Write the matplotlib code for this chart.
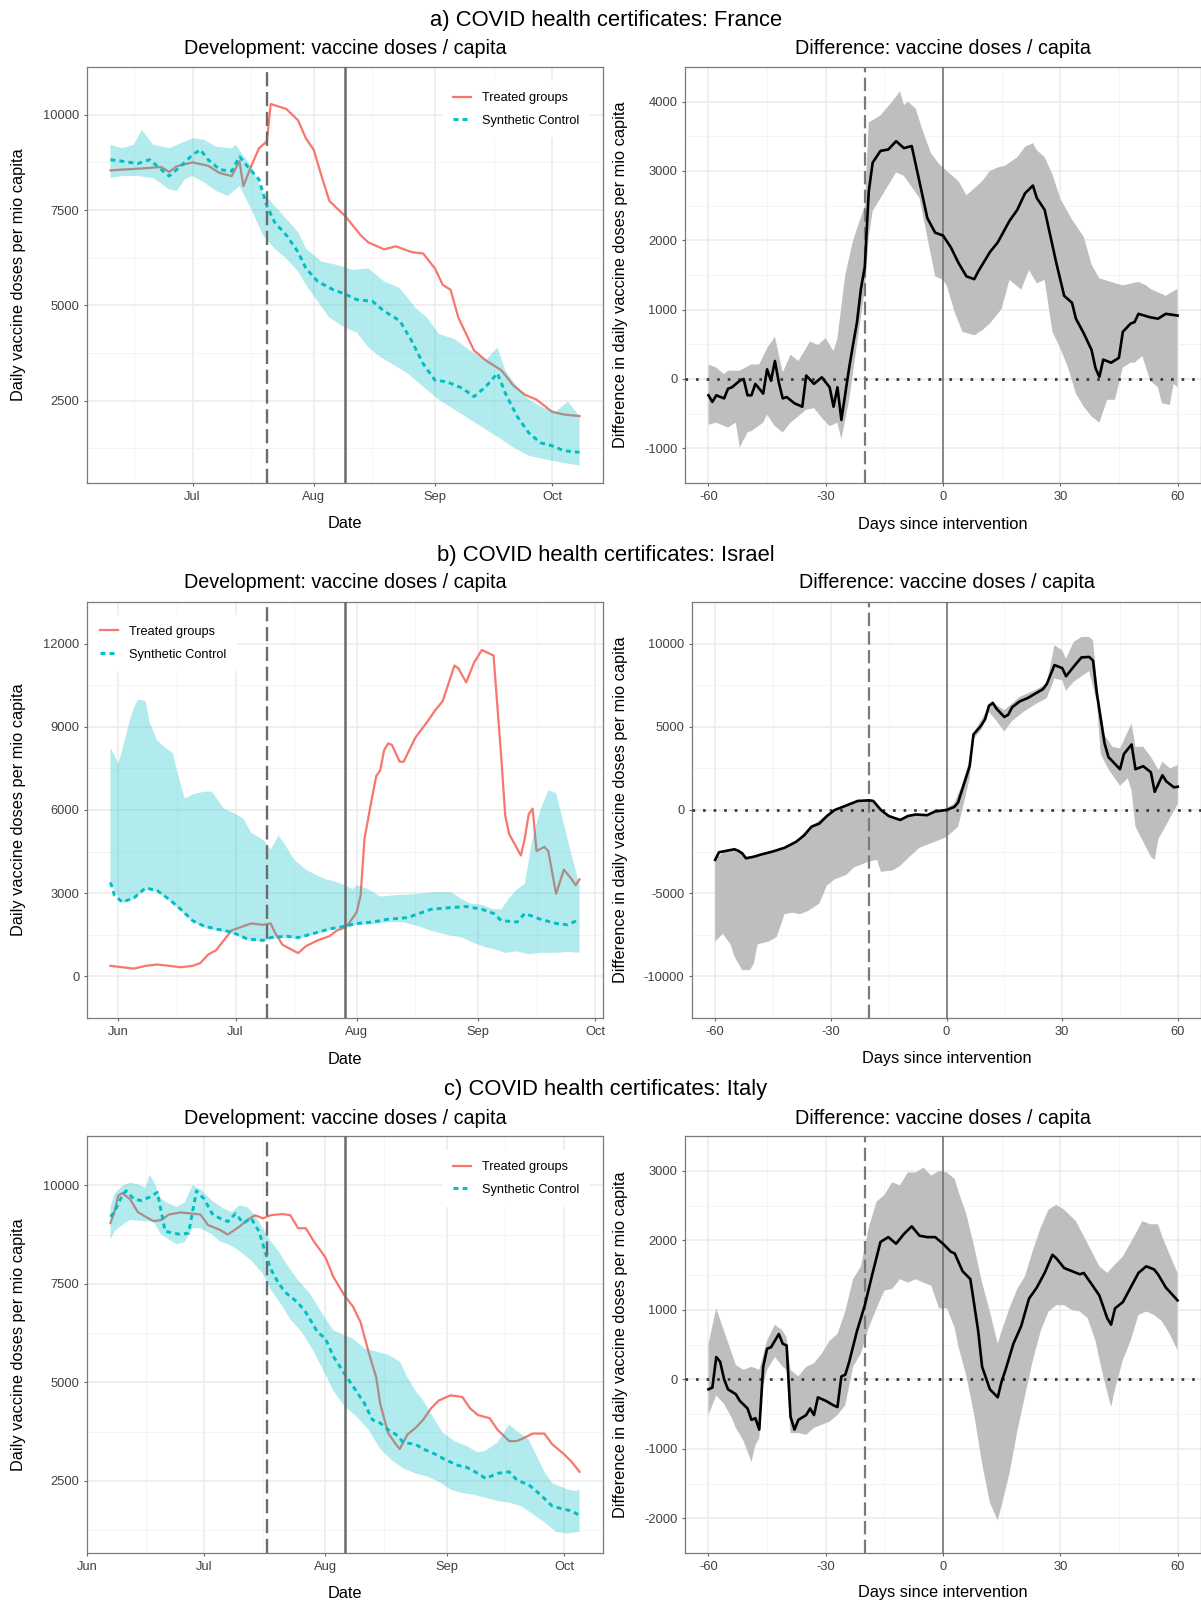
import numpy as np
import matplotlib
matplotlib.use("Agg")
import matplotlib.pyplot as plt
import matplotlib.dates as mdates
from matplotlib.lines import Line2D

plt.rcParams['font.family'] = ['Liberation Sans', 'DejaVu Sans']
plt.rcParams['axes.unicode_minus'] = False

# ---------------- data (days relative to intervention) ----------------
# a) France, intervention 2021-08-09
fr_start = '2021-08-09'
fr_treat_days = [-60,-57,-52,-47,-45,-43,-39,-35,-32,-29,-27,-26,-24,-22,-20,-19,-15,-12,-10,-8,
                 -6,-4,-2,0,4,6,10,13,17,20,23,25,27,29,33,36,40,43,46,49,53,56,60]
fr_treat = [8540,8560,8590,8630,8500,8650,8750,8660,8470,8390,8780,8130,8650,9120,9300,10280,10150,9850,9380,9080,
            8390,7740,7540,7350,6840,6650,6470,6550,6400,6360,5970,5540,5410,4680,3820,3560,3300,2910,2660,2530,2210,2140,2100]
fr_synth_days = [-60,-57,-53,-50,-48,-45,-42,-39,-37,-35,-32,-29,-27,-25,-22,-20,-18,-15,-12,-10,
                 -7,-3,0,3,7,10,14,17,20,23,26,30,33,36,39,41,44,47,50,53,56,60]
fr_synth = [8820,8780,8720,8820,8650,8390,8650,8950,9080,8820,8560,8520,8900,8650,8300,7610,7180,6840,6400,5970,
            5630,5410,5300,5150,5110,4850,4600,4080,3470,3040,3000,2830,2610,2870,3220,2700,2100,1660,1400,1320,1190,1150]
fr_hi_days = [-60,-57,-54,-52,-49,-45,-42,-39,-36,-33,-29,-28,-24,-21,-18,-15,-12,-10,-6,-2,
              2,6,10,14,18,21,24,28,32,36,39,41,44,47,51,54,57,60]
fr_hi = [9210,9120,9210,9600,9210,9120,9250,9380,9340,9160,9120,9210,8650,7960,7610,7270,6920,6490,6150,6060,
         5930,5970,5630,5460,4940,4680,4250,4120,3820,3560,3900,3300,2870,2530,2310,2220,2480,2100]
fr_lo_days = [-60,-57,-53,-49,-45,-43,-41,-39,-36,-33,-30,-27,-24,-21,-18,-15,-12,-10,-7,-4,
              0,3,6,9,12,16,20,24,28,32,36,40,43,47,51,55,60]
fr_lo = [8340,8390,8390,8340,8040,8000,8300,8390,8220,8000,7870,8130,7530,6840,6490,6230,5890,5540,5110,4680,
         4420,4290,3900,3650,3470,3220,2870,2530,2270,2010,1750,1490,1280,1060,970,890,800]
fr_diff_days = [-60,-59,-58,-56,-55,-54,-52,-51,-50,-49,-48,-46,-45,-44,-43,-42,-41,-40,-38,-36,
                -35,-33,-31,-29,-28,-27,-26,-24,-23,-22,-21,-20,-19,-18,-16,-14,-12,-10,-8,-6,
                -4,-2,0,2,4,6,8,9,12,14,17,19,21,23,24,26,29,31,33,34,
                36,38,39,40,41,43,45,46,48,49,50,53,55,57,60]
fr_diff = [-235,-330,-235,-280,-140,-120,-25,0,-235,-235,-70,-210,140,-25,260,-50,-280,-260,-350,-400,
           50,-70,25,-120,-400,-120,-590,165,500,820,1300,1620,2700,3120,3290,3310,3430,3330,3360,2840,
           2320,2110,2070,1900,1670,1480,1440,1550,1830,1970,2280,2440,2680,2790,2610,2440,1670,1200,1100,870,
           660,420,160,30,280,235,305,680,800,820,940,890,870,940,915]
fr_dhi_days = [-60,-58,-56,-55,-52,-49,-47,-45,-43,-41,-39,-37,-34,-32,-30,-28,-27,-25,-23,-20,
               -19,-16,-13,-11,-10,-9,-7,-5,-3,-1,0,2,4,6,8,10,12,14,16,19,
               21,23,24,26,28,30,33,36,38,40,43,46,50,52,53,55,57,60]
fr_dhi = [210,165,70,120,120,210,210,445,610,95,350,260,540,490,590,400,590,1500,2000,2500,
          3700,3800,4000,4150,3950,4000,3900,3550,3250,3100,3050,2950,2850,2650,2750,2850,3000,3050,3080,3200,
          3350,3400,3300,3200,2950,2600,2300,2050,1650,1450,1400,1350,1400,1350,1300,1250,1200,1300]
fr_dlo_days = [-60,-58,-55,-53,-52,-50,-49,-46,-45,-43,-41,-39,-36,-35,-33,-31,-29,-27,-26,-24,
               -23,-22,-21,-20,-19,-18,-15,-12,-10,-8,-6,-4,-2,0,1,3,5,8,10,12,
               15,17,20,22,24,26,28,30,32,34,36,38,40,42,44,46,48,49,51,53,55,56,58,59,60]
fr_dlo = [-660,-630,-700,-630,-990,-770,-750,-630,-515,-680,-770,-630,-490,-445,-420,-560,-680,-630,-870,-300,
          100,500,900,1300,2040,2420,2700,2980,2930,2770,2610,2040,1480,1430,1340,960,680,630,700,800,
          1010,1430,1290,1570,1380,1430,680,445,165,-210,-400,-540,-630,-300,-300,165,235,235,330,-25,
          -120,-350,-375,-70,-120]

# b) Israel, intervention 2021-07-29
il_start = '2021-07-29'
il_treat_days = [-60,-57,-54,-51,-48,-45,-42,-39,-37,-35,-33,-31,-29,-27,-24,-21,-19,-18,-16,-12,
                 -10,-7,-4,-2,0,1,3,4,5,7,8,9,10,11,12,14,15,18,21,23,
                 25,28,29,31,33,35,38,40,41,42,45,46,47,48,49,51,52,54,56,58,59,60]
il_treat = [380,330,280,380,430,380,330,380,480,790,940,1300,1660,1760,1910,1860,1910,1600,1140,840,
            1090,1300,1450,1660,1760,1910,2320,2930,4980,6510,7230,7430,8150,8400,8350,7740,7740,8610,9170,9580,
            9930,11210,11110,10600,11310,11770,11570,7840,5790,5130,4360,4980,5850,6050,4520,4670,4520,2980,3850,3500,3290,3500]
il_synth_days = [-60,-59,-57,-54,-51,-48,-45,-42,-39,-36,-33,-29,-25,-21,-19,-15,-12,-8,-4,0,
                 3,7,11,16,19,22,26,31,35,38,40,44,46,50,54,57,60]
il_synth = [3390,2930,2680,2830,3190,3090,2780,2420,2010,1810,1710,1600,1350,1300,1400,1450,1400,1550,1710,1810,
            1910,1960,2060,2120,2270,2420,2470,2520,2420,2270,2010,1960,2270,2060,1910,1860,2060]
il_hi_days = [-60,-58,-57,-55,-54,-53,-51,-50,-48,-46,-44,-43,-41,-39,-36,-34,-31,-28,-26,-24,
              -21,-19,-17,-15,-13,-10,-8,-5,-3,0,2,3,6,9,13,16,19,23,27,30,
              32,35,38,40,42,44,46,48,50,52,54,56,58,60]
il_hi = [8250,7690,8150,9270,9680,9990,9930,9170,8500,8250,8040,7430,6410,6560,6660,6660,6050,5850,5690,5180,
         4930,4570,5080,4670,4210,3850,3700,3500,3440,3290,3140,3290,3140,2880,2930,2950,2980,3040,3040,2780,
         2630,2580,2420,2420,2830,3140,3340,4980,6000,6710,6610,5490,4360,3290]
il_lo_days = [-60,-57,-54,-51,-48,-45,-42,-39,-36,-33,-29,-25,-21,-19,-15,-12,-8,-4,0,3,
              7,11,15,19,22,26,30,33,36,39,41,44,47,50,54,57,60]
il_lo = [3340,2640,2780,3140,3040,2730,2370,1960,1760,1660,1550,1300,1250,1350,1400,1350,1500,1660,1760,1850,
         1880,1960,1950,1800,1650,1500,1400,1200,1050,950,850,900,800,850,850,880,850]
il_diff_days = [-60,-59,-57,-55,-54,-53,-52,-50,-48,-45,-42,-39,-37,-35,-33,-31,-29,-26,-23,-20,
                -19,-17,-15,-12,-10,-8,-5,-3,0,2,3,4,6,7,9,10,11,12,13,15,
                16,17,19,21,23,25,26,28,30,31,33,35,37,38,39,41,42,45,46,48,
                49,51,53,54,56,57,59,60]
il_diff = [-2995,-2540,-2450,-2360,-2450,-2600,-2900,-2810,-2670,-2490,-2270,-1910,-1540,-1000,-820,-360,0,270,545,580,
           545,0,-360,-600,-360,-270,-310,-90,0,180,450,1180,2630,4540,5080,5450,6260,6440,6080,5590,
           5720,6170,6530,6720,6990,7260,7570,8710,8530,8040,8620,9170,9200,8980,6990,3990,3180,2450,3360,3940,
           2450,2630,2270,1090,2090,1720,1360,1400]
il_dhi_days = [-60,-57,-55,-52,-48,-45,-42,-39,-35,-31,-29,-26,-23,-19,-17,-15,-12,-8,-5,-3,
               0,2,4,6,7,10,12,15,19,23,26,28,30,31,33,35,37,38,39,41,
               43,45,48,49,51,53,55,56,58,60]
il_dhi = [-2950,-2400,-2300,-2850,-2620,-2440,-2220,-1860,-950,-310,50,320,600,600,50,-310,-550,-220,-260,-40,
          100,400,1500,3000,4600,5800,6450,6000,6800,7200,7600,9900,9600,9100,10100,10400,10400,10200,7600,4500,
          3800,3700,5200,3800,3800,3200,2400,2900,2500,2700]
il_dlo_days = [-60,-58,-56,-55,-53,-51,-50,-49,-46,-44,-42,-40,-38,-36,-33,-31,-29,-26,-24,-22,
               -20,-18,-17,-14,-12,-10,-7,-4,0,3,4,6,7,9,11,13,15,17,20,23,
               26,28,30,31,33,37,39,40,42,45,47,48,49,51,53,54,55,57,58,60]
il_dlo = [-7900,-7440,-8080,-8800,-9620,-9620,-9260,-8080,-7900,-7620,-6260,-6170,-6260,-6080,-5630,-4540,-4170,-3900,-3450,-3270,
          -3090,-3000,-3720,-3630,-3360,-2900,-2270,-2000,-1630,-1000,-90,1900,4270,4810,5900,5350,4720,5350,5900,6350,
          6720,7900,7800,7170,7710,8350,6500,3360,2450,1450,1900,1180,-1000,-1900,-2810,-3000,-1720,-910,-450,360]

# c) Italy, intervention 2021-08-06
it_start = '2021-08-06'
it_treat_days = [-60,-59,-58,-57,-55,-53,-51,-49,-47,-45,-42,-39,-37,-35,-32,-30,-27,-25,-23,-21,
                 -19,-16,-14,-12,-10,-8,-5,-3,0,2,4,6,8,9,11,13,14,16,18,20,
                 22,24,27,30,32,34,37,39,42,44,46,48,51,53,56,58,60]
it_treat = [9040,9320,9740,9800,9650,9320,9200,9090,9120,9260,9310,9280,9260,8990,8870,8750,8950,9120,9240,9160,
            9240,9270,9240,8910,8910,8580,8170,7680,7180,6930,6520,5780,5120,4460,3720,3430,3310,3680,3840,4050,
            4340,4540,4670,4630,4340,4170,4090,3800,3510,3510,3600,3700,3700,3430,3180,2980,2730]
it_synth_days = [-60,-59,-57,-56,-54,-52,-50,-48,-46,-44,-42,-40,-38,-36,-34,-32,-30,-28,-26,-24,
                 -22,-20,-19,-17,-15,-12,-10,-7,-5,-3,0,2,5,7,9,11,13,15,18,20,
                 23,26,29,31,34,36,39,42,44,47,50,53,56,58,60]
it_synth = [9200,9320,9740,9860,9650,9610,9700,9820,8830,8790,8750,8790,9860,9650,9280,9160,9080,9280,9040,9160,
            8830,8170,7880,7510,7260,7020,6770,6270,6110,5660,5200,4910,4460,4050,3970,3800,3680,3470,3430,3310,
            3180,3020,2890,2850,2690,2560,2690,2730,2520,2400,2150,1860,1780,1740,1620]
it_hi_days = [-60,-59,-57,-55,-53,-51,-50,-49,-47,-45,-43,-41,-39,-37,-34,-31,-29,-27,-25,-23,
              -21,-19,-17,-15,-12,-9,-6,-3,0,2,5,8,11,14,16,18,20,22,25,28,
              31,34,36,39,42,44,47,49,51,53,55,57,59,60]
it_hi = [9450,9780,9980,10070,10020,9940,10270,10110,9650,9530,9450,9570,10000,9900,9610,9410,9320,9490,9450,9240,
         8910,8580,8330,8010,7590,7260,6770,6320,6190,6110,5860,5780,5700,5530,5120,4790,4540,4210,3720,3510,
         3390,3220,3270,3470,3930,3760,3550,3140,2730,2440,2360,2280,2240,2280]
it_lo_days = [-60,-59,-57,-55,-52,-49,-47,-45,-43,-41,-39,-37,-34,-32,-29,-27,-24,-21,-19,-16,
              -14,-11,-8,-5,-3,0,3,6,9,12,15,18,21,24,27,30,33,36,39,42,
              45,48,51,54,57,60]
it_lo = [8620,8830,8990,9120,9090,9080,8750,8620,8500,8560,8910,8910,8750,8580,8460,8330,8090,7760,7350,6930,
         6600,6270,5780,5200,4790,4380,4130,3800,3310,3020,2810,2690,2610,2480,2280,2190,2150,2070,1990,1950,
         1860,1660,1450,1210,1160,1210]
it_diff_days = [-60,-59,-58,-57,-56,-55,-53,-52,-50,-49,-48,-47,-46,-45,-44,-42,-41,-40,-39,-38,
                -37,-35,-34,-33,-32,-30,-28,-27,-26,-25,-24,-22,-20,-18,-16,-14,-12,-10,-8,-6,
                -4,-2,0,2,3,5,7,9,10,12,14,15,16,18,20,22,24,26,28,29,
                31,33,35,36,38,40,42,43,44,46,48,50,52,54,55,57,60]
it_diff = [-145,-120,320,250,0,-145,-215,-310,-420,-585,-560,-725,180,440,460,650,510,485,-540,-725,
           -585,-515,-420,-515,-260,-310,-375,-400,40,65,250,695,1065,1530,1975,2045,1950,2090,2200,2065,
           2045,2045,1950,1835,1810,1555,1440,695,180,-145,-260,-30,135,510,765,1160,1320,1530,1790,1740,
           1600,1555,1510,1530,1370,1205,880,785,1020,1110,1320,1530,1625,1580,1510,1320,1135]
it_dhi_days = [-60,-58,-56,-54,-53,-51,-49,-47,-45,-43,-41,-40,-39,-37,-35,-33,-31,-29,-27,-25,
               -23,-21,-19,-17,-15,-13,-11,-9,-7,-5,-3,-1,1,3,4,6,8,10,12,14,
               15,17,19,21,23,25,27,29,31,34,37,40,42,44,46,49,51,53,55,56,58,60]
it_dhi = [510,1020,695,370,205,135,180,135,555,785,695,600,135,40,180,230,370,555,650,975,
          1440,1625,2180,2555,2650,2835,2790,2975,2975,3045,2930,3000,2975,2880,2695,2370,1905,1390,975,510,
          695,1020,1300,1485,1855,2180,2440,2510,2440,2275,1950,1625,1530,1650,1765,2065,2275,2230,2230,2065,1790,1530]
it_dlo_days = [-60,-58,-56,-54,-53,-51,-49,-48,-47,-46,-45,-43,-41,-40,-39,-37,-35,-33,-31,-29,
               -27,-25,-23,-21,-19,-17,-15,-13,-11,-9,-7,-5,-3,-1,1,3,4,6,8,10,
               12,14,15,17,19,21,23,25,27,29,31,33,35,37,39,41,43,44,46,48,
               50,52,54,56,58,60]
it_dlo = [-515,-235,-355,-560,-700,-890,-1190,-950,-850,-80,135,320,180,135,-775,-775,-800,-700,-655,-610,
          -515,-375,180,370,740,1020,1275,1300,1440,1390,1440,1390,1345,1020,1020,740,460,40,-515,-1215,
          -1775,-2030,-1820,-1355,-750,-235,275,695,975,1065,1065,995,975,880,555,40,-400,-145,275,555,
          925,975,925,835,650,415]

# ---------------- layout ----------------
W, H = 1201, 1603
fig = plt.figure(figsize=(W / 100, H / 100), dpi=100)

RED = '#F8766D'
CYAN = '#00BFC4'
VGREY = '#6b6b6b'
TICKC = '#404040'


def pix_axes(x0, y0, x1, y1):
    return fig.add_axes([x0 / W, 1 - y1 / H, (x1 - x0) / W, (y1 - y0) / H])


def base_style(ax, ylim, yticks):
    ax.set_ylim(*ylim)
    ax.set_yticks(yticks)
    step = yticks[1] - yticks[0]
    ax.set_yticks(np.arange(yticks[0] - step / 2, yticks[-1] + step, step), minor=True)
    ax.set_axisbelow(True)
    ax.grid(which='major', color='#EBEBEB', lw=1.1)
    ax.grid(which='minor', color='#F4F4F4', lw=0.7)
    for s in ax.spines.values():
        s.set_color('#7a7a7a')
        s.set_linewidth(0.9)
    ax.tick_params(which='major', length=2.5, width=0.8, color='#666666',
                   labelsize=9.3, labelcolor=TICKC, pad=3)
    ax.tick_params(which='minor', length=0)


def dev_panel(ax, start, t_days, t_vals, s_days, s_vals, hi_days, hi_vals, lo_days, lo_vals,
              ylim, yticks, leg_anchor):
    day0 = np.datetime64(start)

    def to_x(days):
        return mdates.date2num(day0 + np.array(days).astype('timedelta64[D]'))

    ax.plot(to_x(t_days), t_vals, color=RED, lw=1.6, zorder=3)
    ax.plot(to_x(s_days), s_vals, color=CYAN, lw=2.1, ls=(0, (1.7, 1.4)), zorder=3)
    bx = np.concatenate([to_x(hi_days), to_x(lo_days)[::-1]])
    by = np.concatenate([hi_vals, lo_vals[::-1]])
    ax.fill(bx, by, color=CYAN, alpha=0.3, lw=0, zorder=4)
    ax.axvline(to_x([-20])[0], color=VGREY, lw=1.7, ls=(0, (6, 2.4)), zorder=5)
    ax.axvline(to_x([0])[0], color=VGREY, lw=1.8, zorder=5)
    ax.set_xlim(to_x([-66])[0], to_x([66])[0])
    ax.xaxis.set_major_locator(mdates.MonthLocator())
    ax.xaxis.set_major_formatter(mdates.DateFormatter('%b'))
    ax.xaxis.set_minor_locator(mdates.MonthLocator(bymonthday=16))
    base_style(ax, ylim, yticks)
    handles = [Line2D([], [], color=RED, lw=1.6),
               Line2D([], [], color=CYAN, lw=2.1, ls=(0, (1.7, 1.4)))]
    leg = ax.legend(handles, ['Treated groups', 'Synthetic Control'], loc='upper left',
                    bbox_to_anchor=leg_anchor, frameon=True, fancybox=False, framealpha=1,
                    edgecolor='none', facecolor='white', fontsize=9.2, handlelength=1.45,
                    handletextpad=0.85, labelspacing=0.85, borderpad=0.85, borderaxespad=0)
    leg.set_zorder(6)


def diff_panel(ax, d_days, d_vals, hi_days, hi_vals, lo_days, lo_vals, ylim, yticks):
    bx = np.concatenate([hi_days, lo_days[::-1]])
    by = np.concatenate([hi_vals, lo_vals[::-1]])
    ax.fill(bx, by, color='#BEBEBE', lw=0, zorder=2)
    ax.axhline(0, color='#333333', lw=1.9, ls=(0, (1, 3)), zorder=3)
    ax.axvline(-20, color='#7a7a7a', lw=1.6, ls=(0, (6, 2.4)), zorder=3)
    ax.axvline(0, color=VGREY, lw=1.1, zorder=3)
    ax.plot(d_days, d_vals, color='black', lw=1.9, zorder=4)
    ax.set_xlim(-66, 66)
    ax.set_xticks([-60, -30, 0, 30, 60])
    ax.set_xticks([-45, -15, 15, 45], minor=True)
    base_style(ax, ylim, yticks)


rows = [
    dict(title='a) COVID health certificates: France', ty=20.7, sy=48, top=67, bot=483, rx0=685,
         xl=524, start=fr_start,
         dev=(fr_treat_days, fr_treat, fr_synth_days, fr_synth, fr_hi_days, fr_hi, fr_lo_days, fr_lo),
         dev_ylim=(345, 10759), dev_ticks=[2500, 5000, 7500, 10000], leg=(0.688, 0.966),
         dif=(fr_diff_days, fr_diff, fr_dhi_days, fr_dhi, fr_dlo_days, fr_dlo),
         dif_ylim=(-1258, 4413), dif_ticks=[-1000, 0, 1000, 2000, 3000, 4000]),
    dict(title='b) COVID health certificates: Israel', ty=555, sy=583, top=602, bot=1018, rx0=692,
         xl=1059, start=il_start,
         dev=(il_treat_days, il_treat, il_synth_days, il_synth, il_hi_days, il_hi, il_lo_days, il_lo),
         dev_ylim=(-286, 12307), dev_ticks=[0, 3000, 6000, 9000, 12000], leg=(0.004, 0.969),
         dif=(il_diff_days, il_diff, il_dhi_days, il_dhi, il_dlo_days, il_dlo),
         dif_ylim=(-10671, 11668), dif_ticks=[-10000, -5000, 0, 5000, 10000]),
    dict(title='c) COVID health certificates: Italy', ty=1090, sy=1118, top=1136, bot=1553, rx0=685,
         xl=1593, start=it_start,
         dev=(it_treat_days, it_treat, it_synth_days, it_synth, it_hi_days, it_hi, it_lo_days, it_lo),
         dev_ylim=(670, 10767), dev_ticks=[2500, 5000, 7500, 10000], leg=(0.688, 0.966),
         dif=(it_diff_days, it_diff, it_dhi_days, it_dhi, it_dlo_days, it_dlo),
         dif_ylim=(-2377, 3326), dif_ticks=[-2000, -1000, 0, 1000, 2000, 3000]),
]

for r in rows:
    axl = pix_axes(87, r['top'], 603, r['bot'])
    arrs = [np.array(a, dtype=float) for a in r['dev']]
    dev_panel(axl, r['start'], *arrs, r['dev_ylim'], r['dev_ticks'], r['leg'])
    axr = pix_axes(r['rx0'], r['top'], 1201, r['bot'])
    arrs = [np.array(a, dtype=float) for a in r['dif']]
    diff_panel(axr, *arrs, r['dif_ylim'], r['dif_ticks'])

    ymid = 1 - (r['top'] + r['bot']) / 2 / H
    fig.text(606 / W, 1 - r['ty'] / H, r['title'], ha='center', va='center', fontsize=15.8)
    fig.text(345 / W, 1 - r['sy'] / H, 'Development: vaccine doses / capita',
             ha='center', va='center', fontsize=14.2)
    fig.text((r['rx0'] + 1201) / 2 / W, 1 - r['sy'] / H, 'Difference: vaccine doses / capita',
             ha='center', va='center', fontsize=14.2)
    fig.text(19 / W, ymid, 'Daily vaccine doses per mio capita', rotation=90,
             ha='center', va='center', fontsize=11.8)
    fig.text(621 / W, ymid, 'Difference in daily vaccine doses per mio capita', rotation=90,
             ha='center', va='center', fontsize=11.8)
    fig.text(345 / W, 1 - r['xl'] / H, 'Date', ha='center', va='center', fontsize=11.8)
    fig.text((r['rx0'] + 1201) / 2 / W, 1 - r['xl'] / H, 'Days since intervention',
             ha='center', va='center', fontsize=11.8)

fig.savefig('out.png', dpi=100, facecolor='white')
